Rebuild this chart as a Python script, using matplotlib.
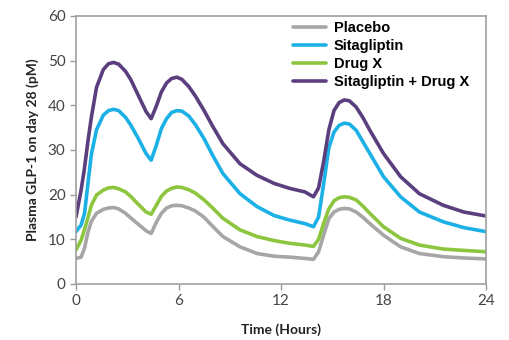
import matplotlib.pyplot as plt

# time (hours) and plasma GLP-1 (pM)
hours = [0, 0.3, 0.5, 0.7, 0.9, 1.2, 1.6, 1.9, 2.2, 2.5,
         2.9, 3.2, 3.6, 4.1, 4.4, 4.7, 5.0, 5.3, 5.6, 5.9,
         6.2, 6.6, 7.0, 7.5, 8.0, 8.6, 9.6, 10.6, 11.6, 12.5,
         13.4, 13.9, 14.2, 14.5, 14.8, 15.1, 15.4, 15.7, 16.0, 16.4,
         16.8, 17.2, 18.0, 19.0, 20.1, 21.5, 22.7, 24]

placebo = [5.7, 6.0, 8.0, 11.6, 14.0, 15.8, 16.7, 17.0, 17.1, 16.8,
           15.8, 14.8, 13.5, 11.9, 11.3, 13.8, 15.8, 17.0, 17.5, 17.6,
           17.5, 17.0, 16.3, 14.9, 12.9, 10.6, 8.3, 6.8, 6.2, 6.0,
           5.7, 5.5, 7.2, 11.0, 14.6, 16.1, 16.7, 16.9, 16.8, 16.1,
           14.9, 13.5, 10.9, 8.3, 6.8, 6.1, 5.8, 5.6]
sitagliptin = [11.7, 13.2, 15.8, 22.5, 29.0, 34.5, 37.8, 38.8, 39.1, 38.8,
               37.3, 35.6, 32.9, 29.2, 27.7, 31.0, 34.8, 37.0, 38.4, 38.8,
               38.7, 37.6, 35.6, 32.5, 28.8, 24.7, 20.2, 17.3, 15.3, 14.3,
               13.5, 12.8, 15.0, 22.5, 30.5, 34.0, 35.5, 36.0, 35.8, 34.4,
               31.8, 29.2, 24.0, 19.5, 16.1, 13.9, 12.6, 11.7]
drug_x = [7.6, 9.8, 12.2, 14.8, 17.6, 19.9, 21.0, 21.5, 21.6, 21.3,
          20.6, 19.6, 18.0, 16.1, 15.6, 17.6, 19.6, 20.8, 21.4, 21.7,
          21.6, 21.1, 20.3, 18.8, 17.0, 14.7, 12.1, 10.6, 9.7, 9.1,
          8.7, 8.4, 10.0, 13.6, 16.8, 18.6, 19.3, 19.5, 19.4, 18.8,
          17.4, 15.8, 12.8, 10.2, 8.7, 7.8, 7.5, 7.2]
combo = [15.0, 21.0, 26.0, 32.0, 37.3, 44.0, 48.0, 49.3, 49.6, 49.2,
         47.6, 45.8, 42.6, 38.6, 37.0, 39.8, 43.0, 45.0, 46.0, 46.3,
         45.8, 44.2, 42.0, 38.8, 35.3, 31.4, 26.9, 24.3, 22.5, 21.4,
         20.6, 19.5, 21.5, 27.5, 34.5, 38.8, 40.6, 41.2, 41.0, 39.6,
         37.2, 34.4, 29.2, 24.0, 20.2, 17.6, 16.1, 15.2]

labels = ['Placebo', 'Sitagliptin', 'Drug X', 'Sitagliptin + Drug X']
x_ticks = [0, 6, 12, 18, 24]
y_ticks = [0, 10, 20, 30, 40, 50, 60]

plt.rcParams['font.family'] = ['Lato', 'DejaVu Sans']

fig = plt.figure(figsize=(5.1, 3.4), dpi=100)
ax = fig.add_axes([0.149, 0.165, 0.804, 0.788])

colors = ['#a6a6a6', '#1cb1e6', '#8cc63f', '#5a3e7e']
for series, lab, col in zip([placebo, sitagliptin, drug_x, combo], labels, colors):
    ax.plot(hours, series, color=col, lw=2.6, label=lab,
            solid_capstyle='round', solid_joinstyle='round')

ax.set_xlim(0, 24)
ax.set_ylim(0, 60)
ax.set_xticks(x_ticks)
ax.set_yticks(y_ticks)
ax.tick_params(labelsize=11, colors='#999999', labelcolor='#444444', length=4, width=1)

for side in ['left', 'bottom', 'top', 'right']:
    ax.spines[side].set_color('#a0a0a0')
    ax.spines[side].set_linewidth(1.2)

ax.set_xlabel('Time (Hours)', fontsize=10, fontweight='bold', color='#222222', labelpad=11)
ax.set_ylabel('Plasma GLP-1 on day 28 (pM)', fontsize=10, fontweight='bold', color='#222222',
              labelpad=6)

leg = ax.legend(loc='upper left', bbox_to_anchor=(0.5, 1.025), frameon=True, fancybox=False,
                handlelength=2.3, handletextpad=0.5, labelspacing=0.28, borderpad=0.3,
                prop={'family': 'Liberation Sans', 'weight': 'bold', 'size': 10.5})
leg.get_frame().set_facecolor('white')
leg.get_frame().set_edgecolor('none')
leg.get_frame().set_alpha(1)

fig.savefig('out.png', dpi=100)
